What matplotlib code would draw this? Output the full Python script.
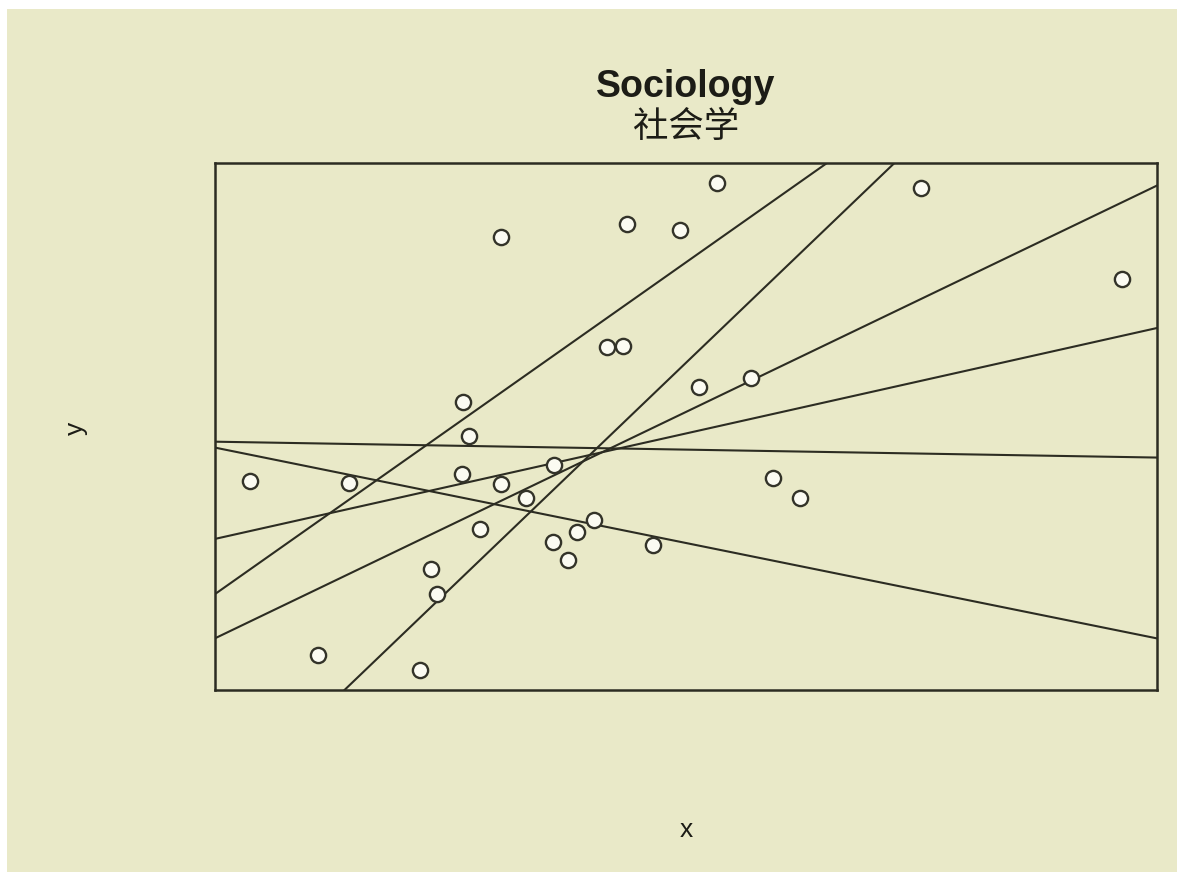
import matplotlib
matplotlib.use("Agg")
import matplotlib.pyplot as plt
from matplotlib.patches import Rectangle

# Observations
x_vals = [0.00, 1.135, 0.78, 1.95, 2.08, 2.14, 2.44, 2.51, 2.43, 2.64,
          2.88, 2.88, 3.17, 3.48, 3.49, 3.65, 3.75, 3.94, 4.09, 4.28,
          4.32, 4.62, 4.93, 5.15, 5.36, 5.75, 6.00, 6.31, 7.69, 10.00]
y_vals = [3.88, 3.84, 0.32, 0.01, 2.08, 1.57, 5.48, 4.79, 4.03, 2.90,
          8.86, 3.81, 3.53, 2.63, 4.21, 2.26, 2.84, 3.08, 6.61, 6.63,
          9.13, 2.57, 9.01, 5.79, 9.97, 5.99, 3.94, 3.53, 9.85, 8.00]

# Candidate fitted lines: y = intercept + slope * x
line_intercepts = [4.668, 4.415, 2.855, 2.071, 1.009, -2.239]
line_slopes = [-0.030, -0.3606, 0.3986, 1.254, 0.8557, 1.706]

title_text = "Sociology"
subtitle_text = "社会学"
x_label = "x"
y_label = "y"

bg = "#e9e9c8"
ink = "#2c2c22"

W, H = 1177, 872
fig = plt.figure(figsize=(W / 100, H / 100), dpi=100, facecolor="white")
fig.patches.append(Rectangle((7 / W, 0), 1 - 7 / W, 1 - 9 / H,
                             transform=fig.transFigure, facecolor=bg,
                             edgecolor="none", zorder=-10))

ax = fig.add_axes([215 / W, 1 - 690 / H, 942 / W, 527 / H])
ax.set_facecolor(bg)

# R-style 4% padding around the data range
xmin, xmax = min(x_vals), max(x_vals)
ymin, ymax = min(y_vals), max(y_vals)
px = 0.04 * (xmax - xmin)
py = 0.04 * (ymax - ymin)
ax.set_xlim(xmin - px, xmax + px)
ax.set_ylim(ymin - py, ymax + py)

for a, b in zip(line_intercepts, line_slopes):
    ax.axline((0, a), slope=b, color=ink, lw=1.5, zorder=2)

ax.scatter(x_vals, y_vals, s=120, facecolor="#fbfbf2", edgecolor="#333329",
           linewidth=1.7, zorder=3)

ax.set_xticks([])
ax.set_yticks([])
for sp in ax.spines.values():
    sp.set_color(ink)
    sp.set_linewidth(1.8)

fig.text(686 / W, 1 - 87 / H, title_text, ha="center", va="center",
         fontsize=27, fontweight="bold", family=["Liberation Sans", "DejaVu Sans"],
         color="#1c1c16")
fig.text(686 / W, 1 - 127 / H, subtitle_text, ha="center", va="center",
         fontsize=25.5, family=["Noto Sans CJK SC", "DejaVu Sans"], color="#1c1c16")
fig.text(686 / W, 1 - 830 / H, x_label, ha="center", va="center",
         fontsize=19, family=["Liberation Sans", "DejaVu Sans"], color="#1c1c16")
fig.text(76 / W, 1 - 428 / H, y_label, ha="center", va="center", rotation=90,
         fontsize=19, family=["Liberation Sans", "DejaVu Sans"], color="#1c1c16")

fig.savefig("out.png", dpi=100, facecolor="white")
